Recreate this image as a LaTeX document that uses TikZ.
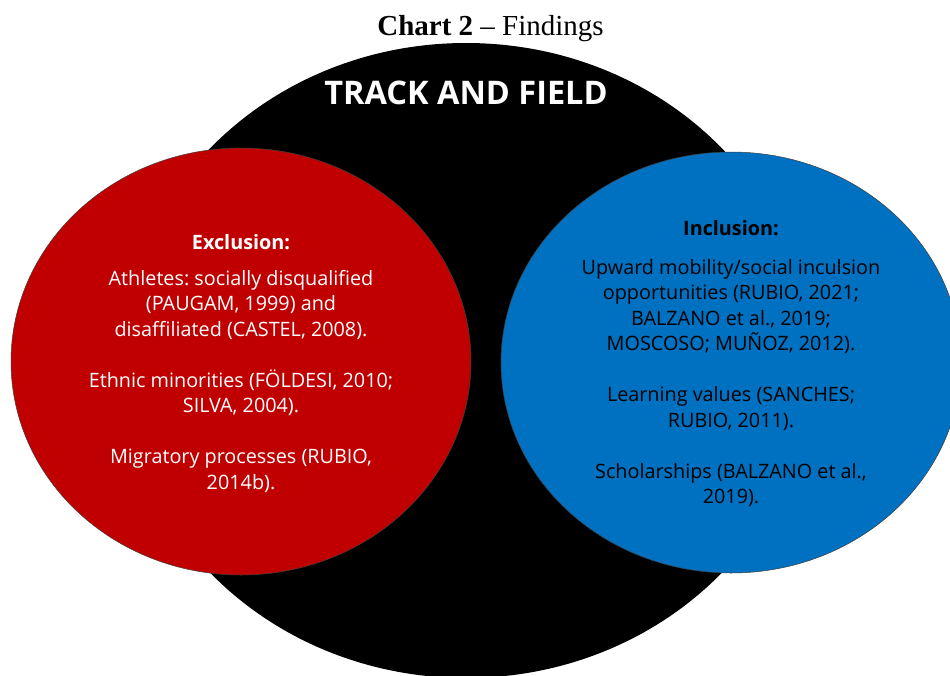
\documentclass[tikz,border=0pt]{standalone}
\usepackage{fontspec}
\setmainfont{Liberation Serif}
\newfontfamily\bodysans{Open Sans}
\usetikzlibrary{shapes.geometric}
\definecolor{exred}{RGB}{192,0,0}
\definecolor{inblue}{RGB}{0,112,192}
\tikzset{
  bigoval/.style={ellipse, fill=black, inner sep=0pt, minimum width=688pt, minimum height=635pt},
  subsetoval/.style={ellipse, draw=black!75, line width=0.5pt, inner sep=0pt,
    minimum width=460pt},
  ovaltext/.style={inner sep=0pt, align=center,
    font=\bodysans\frenchspacing\fontsize{19.8}{25.5}\selectfont},
  headtext/.style={font=\bodysans\bfseries\fontsize{32.5}{38}\selectfont, text=white},
}
\begin{document}
\begin{tikzpicture}[x=1pt,y=-1pt]
\useasboundingbox (0,0) rectangle (950,675);
\clip (0,0) rectangle (950,675);
\node (title) at (490.5,29) {\fontsize{29}{34}\selectfont\textbf{Chart 2} -- Findings};
\node[bigoval] (field) at (466,360.5) {};
\node[headtext] (fieldlabel) at (466,93) {TRACK AND FIELD};
\node[subsetoval, fill=exred, minimum height=427pt] (exclusion) at (241,361.5) {};
\node[ovaltext, text=white] (exclusiontext) at (241,363.5) {%
  \textbf{Exclusion:}\\[10pt]
  Athletes: socially disqualified\\
  (PAUGAM, 1999) and\\
  disaffiliated (CASTEL, 2008).\\[25.5pt]
  Ethnic minorities (FÖLDESI, 2010;\\
  SILVA, 2004).\\[25.5pt]
  Migratory processes (RUBIO,\\
  2014b).};
\node[subsetoval, fill=inblue, minimum height=421pt] (inclusion) at (731,362.5) {};
\node[ovaltext, text=black] (inclusiontext) at (731,364) {%
  \textbf{Inclusion:}\\[13pt]
  Upward mobility/social inculsion\\
  opportunities (RUBIO, 2021;\\
  BALZANO et al., 2019;\\
  MOSCOSO; MUÑOZ, 2012).\\[25.5pt]
  Learning values (SANCHES;\\
  RUBIO, 2011).\\[25.5pt]
  Scholarships (BALZANO et al.,\\
  2019).};
\end{tikzpicture}
\end{document}
